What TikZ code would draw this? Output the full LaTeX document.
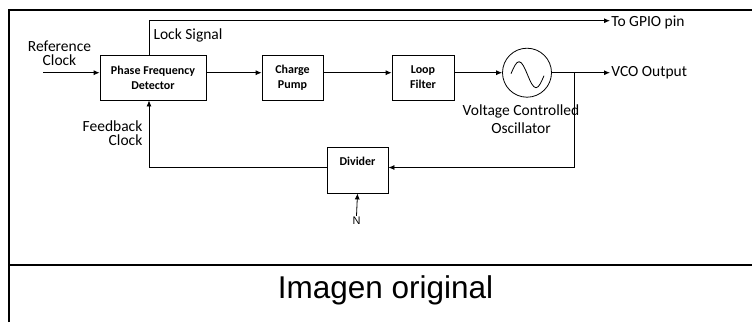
\documentclass[tikz,border=0pt]{standalone}
\usepackage{fontspec}
\setmainfont{Carlito}
\newfontfamily\arialfont{Liberation Sans}
\usetikzlibrary{arrows.meta}
\begin{document}
\begin{tikzpicture}[x=10pt,y=-10pt,>={Latex[length=6pt,width=5pt]},line width=0.8pt,
  blk/.style={draw,minimum height=45pt,inner sep=1pt,align=center,font=\fontsize{12}{15}\selectfont\bfseries},
  lbl/.style={inner sep=1pt,font=\fontsize{15.5}{14}\selectfont}]
\useasboundingbox (0,0) rectangle (75.2,32.2);
\draw[line width=2pt](0.9,32.2)--(0.9,1.0)--(75.2,1.0);
\draw[line width=2pt](0.9,26.5)--(75.2,26.5);

\node[blk,minimum width=106pt](PFD) at (15.3,7.75){Phase Frequency\\Detector};
\node[blk,minimum width=61pt](CP) at (29.25,7.75){Charge\\Pump};
\node[blk,minimum width=62pt](LF) at (42.3,7.75){Loop\\Filter};
\node[blk,minimum width=61pt,minimum height=46pt,text depth=17pt](DIV) at (35.75,17.0){Divider};
\node[draw,circle,minimum size=49pt,inner sep=0pt](VCO) at (52.7,7.27){};
\draw ([xshift=-16pt,yshift=-1pt]VCO.center) sin ++(0.8,-1.2) cos ++(0.85,1.3) sin ++(0.85,1.3) cos ++(0.8,-1.2);

\node[lbl,align=center](REF) at (5.95,5.35){Reference\\Clock};
\node[lbl,align=right](FB) at (11.25,13.3){Feedback\\Clock};
\node[lbl](LS) at (18.8,3.5){Lock Signal};
\node[lbl,align=center](VL) at (52.1,11.9){Voltage Controlled\\[4pt]Oscillator};
\node[lbl,anchor=west](OUT) at (61.0,7.27){VCO Output};
\node[lbl,anchor=west](GPIO) at (61.0,2.2){To GPIO pin};
\node[inner sep=1pt,font=\arialfont\fontsize{11}{11}\selectfont](N) at (35.65,22.1){N};
\node[font=\arialfont\fontsize{31.5}{31.5}\selectfont](IMG) at (38.55,29.0){Imagen original};

\coordinate(R) at (4.3,7.27);
\coordinate(L) at (14.9,2.07);
\coordinate(K) at (57.4,16.75);
\coordinate(F) at (14.9,16.75);

\draw[->](R)--(PFD.west|-R);
\draw[->](PFD.east|-R)--(CP.west|-R);
\draw[->](CP.east|-R)--(LF.west|-R);
\draw[->](LF.east|-R)--(VCO.west);
\draw[->](VCO.east)--(OUT.west);
\draw[->](PFD.north-|L)--(L)--(L-|GPIO.west);
\draw[->](K|-VCO)--(K)--(DIV.east|-K);
\draw[->](DIV.west|-K)--(F)--(PFD.south-|F);
\draw[->](N.north)--(DIV.south);
\end{tikzpicture}
\end{document}
